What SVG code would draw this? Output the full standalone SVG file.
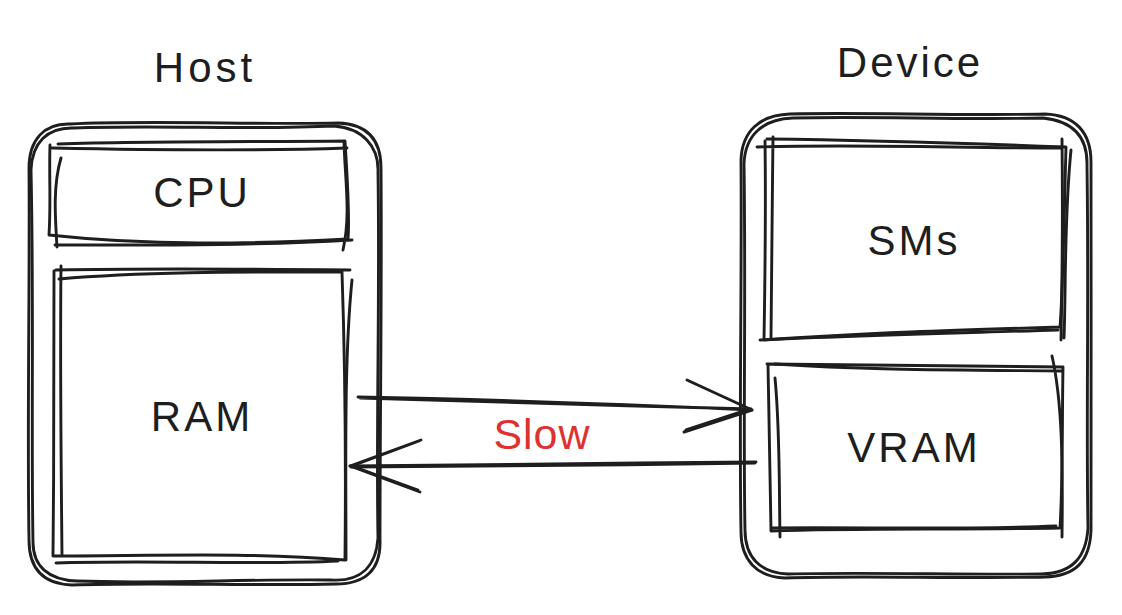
<svg xmlns="http://www.w3.org/2000/svg" width="1122" height="615" viewBox="0 0 1122 615">
<style>
.s{fill:none;stroke:#1e1e1e;stroke-width:2.9;stroke-linecap:round;stroke-linejoin:round}
.t{font-family:"Liberation Sans","Noto Sans",sans-serif;font-size:42px;fill:#1e1e1e;text-anchor:middle;letter-spacing:3px}
.r{fill:#e03131}
</style>
<rect width="1122" height="615" fill="#ffffff"/>
<g id="host-label"><text class="t" x="205" y="82" style="letter-spacing:4px">Host</text></g>
<g id="device-label"><text class="t" x="910" y="77">Device</text></g>
<g id="host">
<path class="s" d="M70 124 C150 120,260 125,338 123 C368 124,381 140,381 168 C382 280,380 420,380 540 C381 570,365 584,336 584 C250 586,150 582,72 585 C44 584,29 570,29 540 C27 420,30 280,29 168 C29 140,44 123,70 124 Z"/>
<path class="s" d="M74 128 C160 125,250 130,334 126 C362 128,379 146,378 172 C380 300,376 430,378 538 C376 566,361 582,331 580 C240 579,160 584,77 581 C48 580,33 566,33 542 C31 430,34 300,31 170 C32 143,47 127,74 128"/>
</g>
<g id="cpu">
<path class="s" d="M58 144 C150 141,260 142,345 141 C347 175,350 215,348 239 C250 244,150 246,49 235 C51 205,49 175,50 145"/>
<path class="s" d="M52 148 C150 150,260 151,347 148 M344 142 C345 180,351 215,343 250 M352 240 C250 246,150 245,55 245 M61 158 C53 185,55 215,57 247"/>
<text class="t" x="202" y="207">CPU</text>
</g>
<g id="ram">
<path class="s" d="M56 270 C150 268,260 269,350 270 M59 279 C150 271,260 272,342 272 C345 360,346 460,345 560 C250 552,150 556,53 556 C54 460,54 360,54 271"/>
<path class="s" d="M61 266 C60 360,61 460,62 555 M352 280 C344 360,346 460,346 560 M56 563 C150 560,260 565,338 561"/>
<text class="t" x="202" y="431">RAM</text>
</g>
<g id="device">
<path class="s" d="M790 114 C860 112,960 116,1045 114 C1075 115,1091 132,1091 162 C1092 280,1090 420,1091 530 C1090 562,1075 576,1045 577 C960 579,860 575,785 578 C757 577,741 560,741 532 C739 420,742 280,741 160 C742 131,760 115,790 114 Z"/>
<path class="s" d="M793 118 C870 116,960 120,1043 118 C1072 121,1088 136,1087 166 C1089 300,1086 430,1088 528 C1086 558,1072 573,1042 574 C960 575,870 572,788 574 C760 573,745 557,745 530 C743 430,746 300,744 164 C745 135,763 119,793 118"/>
</g>
<g id="sms">
<path class="s" d="M767 139 C860 140,960 143,1066 147 C1064 220,1063 290,1060 327 C960 330,860 333,764 340 C765 280,766 210,765 141"/>
<path class="s" d="M773 137 C772 210,772 290,771 338 M1062 139 C1063 220,1062 290,1061 340 M757 147 C860 144,960 148,1062 148 M1071 150 C1064 220,1066 290,1064 338 M760 340 C860 335,960 333,1058 330"/>
<text class="t" x="914" y="255">SMs</text>
</g>
<g id="vram">
<path class="s" d="M767 364 C860 365,960 366,1063 367 C1062 420,1063 480,1060 528 C960 530,860 528,771 531 C770 470,769 420,768 365"/>
<path class="s" d="M775 364 C860 370,960 370,1062 371 M1052 356 C1062 400,1063 460,1062 537 M775 378 C780 430,779 480,780 537 M772 528 C860 527,960 530,1056 526"/>
<text class="t" x="914" y="462">VRAM</text>
</g>
<g id="connectors">
<path class="s" d="M358 397 C480 399,620 404,752 410 M360 398 C480 401,620 406,751 409"/>
<path class="s" d="M687 380 L752 410 L684 432 M689 381 L750 409 L686 430"/>
<path class="s" d="M756 462 C620 463,480 465,350 466 M755 463 C620 465,480 467,351 467"/>
<path class="s" d="M421 440 L350 466 L420 492 M419 441 L352 466 L418 490"/>
</g>
<g id="slow-label"><text class="t r" x="542" y="449" style="font-size:43px;letter-spacing:1px">Slow</text></g>
</svg>
